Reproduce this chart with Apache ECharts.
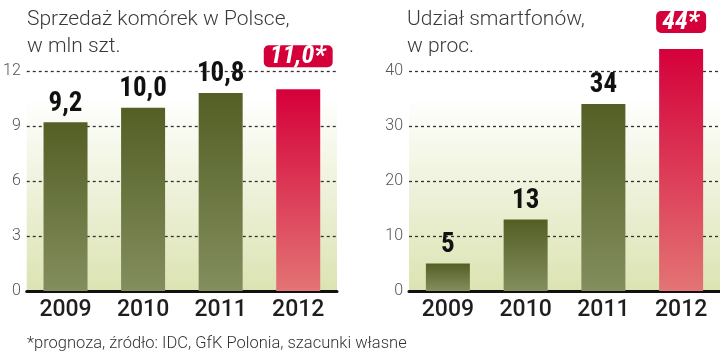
<!DOCTYPE html>
<html><head><meta charset="utf-8">
<script src="https://cdn.jsdelivr.net/npm/echarts@6/dist/echarts.min.js"></script>
<style>html,body{margin:0;padding:0;background:#fff}#c{width:720px;height:352px}</style>
</head><body><div id="c"></div>
<script>
var years = ['2009', '2010', '2011', '2012'];
var sales = [9.2, 10.0, 10.8, 11.0];
var share = [5, 13, 34, 44];
var salesTicks = [0, 3, 6, 9, 12];
var shareTicks = [0, 10, 20, 30, 40];
var forecastIndex = 3;

var narrow = '"Roboto Condensed","Open Sans Condensed",sans-serif';
var green = new echarts.graphic.LinearGradient(0, 0, 0, 1, [{offset: 0, color: '#535f24'}, {offset: 1, color: '#838e5e'}]);
var red = new echarts.graphic.LinearGradient(0, 0, 0, 1, [{offset: 0, color: '#d5003a'}, {offset: 1, color: '#e37474'}]);
var bg = new echarts.graphic.LinearGradient(0, 0, 0, 1, [{offset: 0, color: '#ffffff'}, {offset: 0.12, color: '#ffffff'}, {offset: 1, color: '#dce3b2'}]);

function fmt(v, dec) { return (dec ? v.toFixed(1) : String(v)).replace('.', ','); }

function build(values, dec, redDist) {
  return values.map(function (v, i) {
    var f = i === forecastIndex;
    return {
      value: v,
      itemStyle: {color: f ? red : green},
      label: f ? {
        show: true, position: 'top', distance: redDist,
        formatter: fmt(v, dec) + '*',
        color: '#fff', fontFamily: narrow, fontWeight: 'bold', fontStyle: 'italic', fontSize: 26,
        backgroundColor: '#d3003a', borderRadius: 5, padding: [0, 7, -1, 6], lineHeight: 23
      } : {
        show: true, position: 'top', distance: 5,
        formatter: fmt(v, dec),
        color: '#111', fontFamily: narrow, fontWeight: 'bold', fontSize: 27
      }
    };
  });
}

function yAxis(idx, ticks) {
  return {
    gridIndex: idx, type: 'value', min: ticks[0], max: ticks[ticks.length - 1],
    interval: ticks[1] - ticks[0],
    axisLine: {show: false}, axisTick: {show: false},
    axisLabel: {color: '#555', fontSize: 16, fontFamily: 'Roboto, sans-serif', fontWeight: 300, margin: 6},
    splitLine: {lineStyle: {color: '#333', type: [3, 3], width: 1.3}}
  };
}
function xAxis(idx) {
  return {
    gridIndex: idx, type: 'category', data: years,
    axisLine: {lineStyle: {color: '#111', width: 3}}, axisTick: {show: false},
    axisLabel: {color: '#1e1e1e', fontSize: 23, fontFamily: 'Roboto, sans-serif', fontWeight: 500, margin: 8}
  };
}

var chart = echarts.init(document.getElementById('c'), null, {renderer: 'canvas'});
chart.setOption({
  animation: false,
  title: [
    {text: 'Sprzedaż komórek w Polsce,\nw mln szt.', left: 22, top: 1,
     textStyle: {color: '#3a3a3a', fontSize: 21, fontWeight: 300, fontFamily: 'Roboto, sans-serif', lineHeight: 27}},
    {text: 'Udział smartfonów,\nw proc.', left: 402, top: 1,
     textStyle: {color: '#3a3a3a', fontSize: 21, fontWeight: 300, fontFamily: 'Roboto, sans-serif', lineHeight: 27}},
    {text: '*prognoza, źródło: IDC, GfK Polonia, szacunki własne', left: 22, top: 330,
     textStyle: {color: '#333', fontSize: 16.5, fontWeight: 300, fontFamily: 'Roboto, sans-serif'}}
  ],
  grid: [
    {left: 24, top: 71, width: 313, height: 220, show: true, backgroundColor: bg, borderWidth: 0},
    {left: 409, top: 71, width: 313, height: 220, show: true, backgroundColor: bg, borderWidth: 0}
  ],
  xAxis: [xAxis(0), xAxis(1)],
  yAxis: [yAxis(0, salesTicks), yAxis(1, shareTicks)],
  series: [
    {type: 'bar', xAxisIndex: 0, yAxisIndex: 0, barWidth: 44, data: build(sales, true, 22), clip: false},
    {type: 'bar', xAxisIndex: 1, yAxisIndex: 1, barWidth: 44, data: build(share, false, 16), clip: false}
  ]
});
</script></body></html>
